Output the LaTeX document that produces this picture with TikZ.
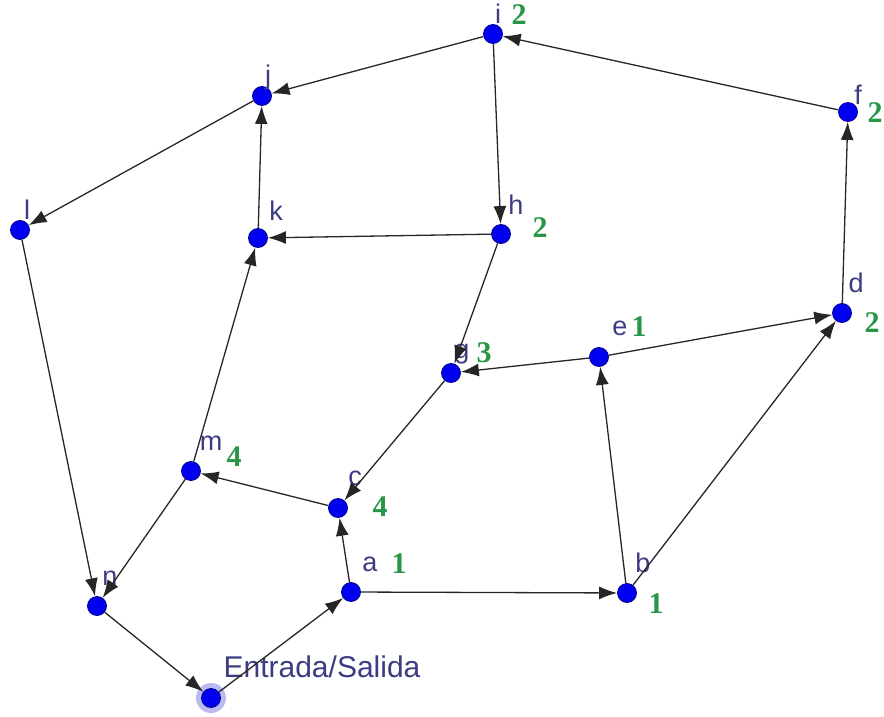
\documentclass[tikz,border=0pt]{standalone}
\usepackage{fontspec}
\setmainfont{Liberation Sans}
\newfontfamily\numfont{Liberation Serif}
\usetikzlibrary{arrows.meta}
\definecolor{ptblue}{RGB}{0,0,240}
\definecolor{ptedge}{RGB}{0,0,140}
\definecolor{labblue}{RGB}{60,60,130}
\definecolor{numgreen}{RGB}{40,150,70}
\definecolor{halofill}{RGB}{140,140,230}
\tikzset{
  pt/.style={circle, fill=ptblue, draw=ptedge, line width=0.8pt,
             minimum size=19pt, inner sep=0pt},
  lab/.style={text=labblue, inner sep=0pt, font=\fontsize{27}{30}\selectfont},
  num/.style={text=numgreen, inner sep=0pt, font=\fontsize{30}{34}\selectfont\numfont\bfseries},
  arr/.style={-{Latex[length=18pt, width=13pt]}, line width=1.3pt, draw=black!85},
}
\begin{document}
\begin{tikzpicture}[x=1pt, y=-1pt]
\useasboundingbox (0,0) rectangle (884,717);
% punto de entrada con halo
\fill[halofill, opacity=0.6] (211,698) circle (15);

% vertices
\node[pt] (i) at (493,34) {};
\node[pt] (j) at (262,96) {};
\node[pt] (f) at (848,112) {};
\node[pt] (l) at (20,230) {};
\node[pt] (k) at (258,238) {};
\node[pt] (h) at (501,234) {};
\node[pt] (d) at (842,313) {};
\node[pt] (e) at (599,357) {};
\node[pt] (g) at (451,373) {};
\node[pt] (m) at (191,471) {};
\node[pt] (c) at (338,508) {};
\node[pt] (n) at (97,606) {};
\node[pt] (a) at (351,592) {};
\node[pt] (b) at (627,593) {};
\node[pt] (es) at (211,698) {};

% nombres
\node[lab] (i-lab) at (498,14) {i};
\node[lab] (j-lab) at (268,78) {j};
\node[lab] (f-lab) at (858,95) {f};
\node[lab] (l-lab) at (27,210) {l};
\node[lab] (k-lab) at (276,211) {k};
\node[lab] (h-lab) at (516,205) {h};
\node[lab] (d-lab) at (856,283) {d};
\node[lab] (e-lab) at (620,328) {e};
\node[lab] (g-lab) at (462,354) {g};
\node[lab] (m-lab) at (211,443) {m};
\node[lab] (c-lab) at (355,478) {c};
\node[lab] (n-lab) at (110,578) {n};
\node[lab] (a-lab) at (370,564) {a};
\node[lab] (b-lab) at (643,563) {b};
\node[lab, font=\fontsize{30}{34}\selectfont] (es-lab) at (322,667) {Entrada/Salida};

% valores
\node[num] (i-num) at (519,15) {2};
\node[num] (f-num) at (875,113) {2};
\node[num] (h-num) at (540,228) {2};
\node[num] (d-num) at (872,323) {2};
\node[num] (e-num) at (639,327) {1};
\node[num] (g-num) at (484,353) {3};
\node[num] (m-num) at (234,457) {4};
\node[num] (c-num) at (380,507) {4};
\node[num] (a-num) at (399,564) {1};
\node[num] (b-num) at (656,604) {1};

% aristas
\draw[arr] (i) -- (j);
\draw[arr] (f) -- (i);
\draw[arr] (i) -- (h);
\draw[arr] (j) -- (l);
\draw[arr] (l) -- (n);
\draw[arr] (k) -- (j);
\draw[arr] (h) -- (k);
\draw[arr] (h) -- (g);
\draw[arr] (m) -- (k);
\draw[arr] (d) -- (f);
\draw[arr] (b) -- (d);
\draw[arr] (e) -- (d);
\draw[arr] (e) -- (g);
\draw[arr] (b) -- (e);
\draw[arr] (g) -- (c);
\draw[arr] (c) -- (m);
\draw[arr] (m) -- (n);
\draw[arr] (a) -- (c);
\draw[arr] (a) -- (b);
\draw[arr] (n) -- (es);
\draw[arr] (es) -- (a);
\end{tikzpicture}
\end{document}
